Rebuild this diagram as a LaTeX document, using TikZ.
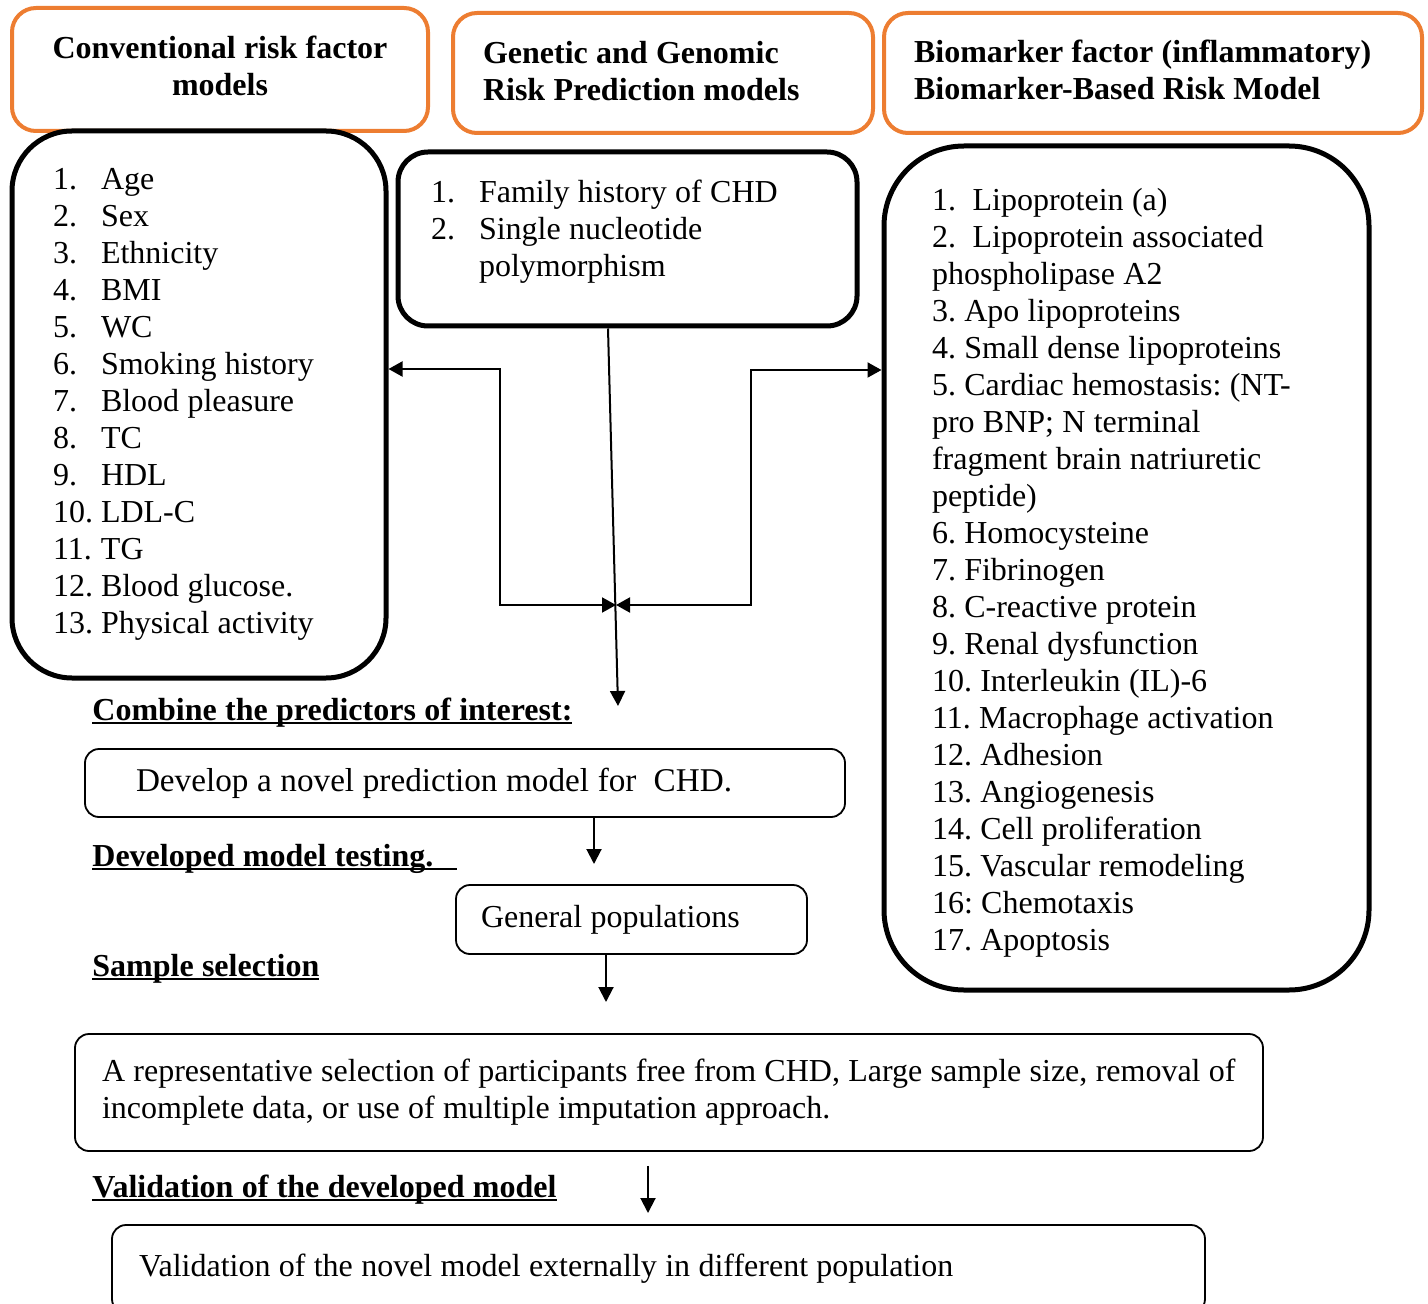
\documentclass[tikz,border=0pt]{standalone}
\usepackage{fontspec}
\setmainfont{Liberation Serif}
\usetikzlibrary{positioning, arrows.meta, calc}

\definecolor{headorange}{HTML}{ED7D31}
\newcommand{\bodysize}{\fontsize{16pt}{18.5pt}\selectfont\frenchspacing}
\newcommand{\itm}[1]{\makebox[24pt][l]{#1}}
\newcommand{\headline}[1]{\setbox0\hbox{#1}\rlap{\rule[-2.2pt]{\wd0}{1.1pt}}\box0}

\tikzset{
    every node/.style={font=\bodysize, execute at begin node={\spaceskip=0.26em\relax}},
    headbox/.style={draw=headorange, line width=2pt, rounded corners=12pt, font=\bodysize\bfseries, inner ysep=0pt},
    listbox/.style={draw, line width=2.5pt, align=left, inner ysep=0pt},
    stagebox/.style={draw, line width=0.9pt, rounded corners=7pt, align=left, inner ysep=0pt},
    stagehead/.style={anchor=base west, inner sep=0pt, font=\bodysize\bfseries},
    flow/.style={line width=1pt, -{Triangle[length=7.5pt, width=7.5pt]}},
    twoway/.style={line width=1pt, {Triangle[length=7pt, width=7.5pt]}-{Triangle[length=7pt, width=7.5pt]}}
}

\begin{document}
\begin{tikzpicture}[x=0.5pt, y=-0.5pt]
    \useasboundingbox (0,0) rectangle (1428,1304);

    % model families
    \node[headbox, align=center, text width=190pt, inner xsep=9pt, minimum height=61.5pt, text depth=22.5pt] (convhead) at (220,69.5) {Conventional risk factor\\models};
    \node[headbox, align=left, text width=180pt, inner xsep=15pt, minimum height=60pt, text depth=20.5pt] (genhead) at (663,73) {Genetic and Genomic\\Risk Prediction models};
    \node[headbox, align=left, text width=239pt, inner xsep=15pt, minimum height=60pt, text depth=21.5pt] (biohead) at (1153,73) {Biomarker factor (inflammatory)\\Biomarker-Based Risk Model};

    % predictor lists
    \node[listbox, rounded corners=30pt, text width=146pt, inner xsep=20.5pt, minimum height=273.5pt] (conv) at (199,404.5) {
        \itm{1.}Age\\
        \itm{2.}Sex\\
        \itm{3.}Ethnicity\\
        \itm{4.}BMI\\
        \itm{5.}WC\\
        \itm{6.}Smoking history\\
        \itm{7.}Blood pleasure\\
        \itm{8.}TC\\
        \itm{9.}HDL\\
        \itm{10.}LDL-C\\
        \itm{11.}TG\\
        \itm{12.}Blood glucose.\\
        \itm{13.}Physical activity
    };
    \node[listbox, rounded corners=15pt, text width=196.5pt, inner xsep=16.5pt, minimum height=87pt, text depth=47.5pt] (genetic) at (627.5,239) {
        \itm{1.}Family history of CHD\\
        \itm{2.}Single nucleotide\\
        \itm{}polymorphism
    };
    \node[listbox, rounded corners=40pt, text width=194.5pt, inner xsep=24pt, minimum height=422pt] (bio) at (1126.5,568) {
        \rule{0pt}{16pt}1.\ \ Lipoprotein (a)\\
        2.\ \ Lipoprotein associated\\
        phospholipase A2\\
        3. Apo lipoproteins\\
        4. Small dense lipoproteins\\
        5. Cardiac hemostasis: (NT-\\
        pro BNP; N terminal\\
        fragment brain natriuretic\\
        peptide)\\
        6. Homocysteine\\
        7. Fibrinogen\\
        8. C-reactive protein\\
        9. Renal dysfunction\\
        10. Interleukin (IL)-6\\
        11. Macrophage activation\\
        12. Adhesion\\
        13. Angiogenesis\\
        14. Cell proliferation\\
        15. Vascular remodeling\\
        16: Chemotaxis\\
        17. Apoptosis
    };

    % joining the lists
    \coordinate (meet) at (616,605);
    \coordinate (leftbend) at (500,369);
    \coordinate (rightbend) at (751,370);
    \coordinate (drop) at (618,706);
    \draw[twoway] (conv.east |- leftbend) -- (leftbend) |- (meet);
    \draw[twoway] (bio.west |- rightbend) -- (rightbend) |- (meet);
    \draw[flow] ($(genetic.south)+(-19.5,0)$) -- (drop);

    % development steps
    \node[stagehead] (combinehead) at (92,720) {\headline{Combine the predictors of interest:}};
    \node[stagebox, font=\fontsize{16.6pt}{19pt}\selectfont\frenchspacing, text width=329pt, inner xsep=25.5pt, minimum height=34pt] (develop) at (465,783) {Develop a novel prediction model for\ \ CHD.};

    \node[stagehead] (testhead) at (92,866) {\headline{Developed model testing.\hspace{12pt}}};
    \node[stagebox, text width=150.5pt, inner xsep=12.5pt, minimum height=34.5pt] (general) at (631.5,919.5) {General populations};

    \node[stagehead] (samplehead) at (92,976) {\headline{Sample selection}};
    \node[stagebox, text width=567pt, inner xsep=13.5pt, minimum height=58.5pt] (sample) at (669,1092.5) {\mbox{A representative selection of participants free from CHD, Large sample size, removal of}\\incomplete data, or use of multiple imputation approach.};

    \node[stagehead] (validhead) at (92,1197) {\headline{Validation of the developed model}};
    \node[stagebox, text width=519.5pt, inner xsep=13.5pt, minimum height=44pt] (validate) at (658.5,1269) {Validation of the novel model externally in different population};

    \coordinate (testtip) at (594,864);
    \coordinate (sampletip) at (606,1002);
    \coordinate (validtip) at (648,1213);
    \draw[flow] (develop.south -| testtip) -- (testtip);
    \draw[flow] (general.south -| sampletip) -- (sampletip);
    \draw[flow] ($(sample.south -| validtip)+(0,14)$) -- (validtip);
\end{tikzpicture}
\end{document}
